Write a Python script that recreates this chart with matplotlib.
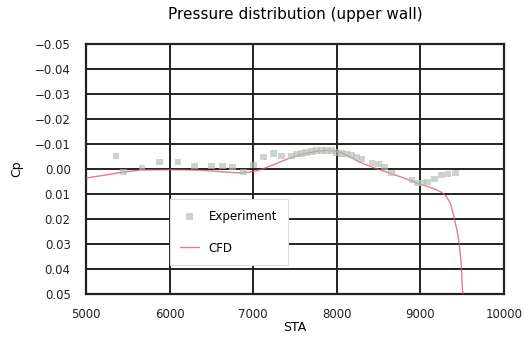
import numpy as np
import matplotlib
matplotlib.use("Agg")
import matplotlib.pyplot as plt

plt.rcParams['font.family'] = ['DejaVu Sans']

# Experiment (pressure taps on upper wall)
exp_sta = [5360, 5450, 5670, 5880, 6100, 6300, 6500, 6630, 6750, 6880,
           7000, 7120, 7240, 7340, 7460, 7520, 7580, 7640, 7700, 7760,
           7820, 7880, 7940, 8000, 8060, 8120, 8180, 8240, 8300, 8420,
           8500, 8570, 8650, 8900, 8960, 9020, 9080, 9170, 9250, 9330, 9420]
exp_cp = [-0.0052, 0.0012, -0.0004, -0.0028, -0.0028, -0.0012, -0.0012, -0.0012, -0.0008, 0.0012,
          -0.0016, -0.0048, -0.0063, -0.0052, -0.0052, -0.0060, -0.0063, -0.0067, -0.0071, -0.0075,
          -0.0075, -0.0075, -0.0075, -0.0067, -0.0063, -0.0060, -0.0056, -0.0048, -0.0040, -0.0024,
          -0.0020, -0.0008, 0.0016, 0.0044, 0.0056, 0.0056, 0.0052, 0.0040, 0.0024, 0.0020, 0.0016]

# CFD result
cfd_sta = [5000, 5200, 5450, 5680, 6000, 6300, 6500, 6700, 6850, 6970,
           7100, 7250, 7440, 7600, 7760, 7910, 8050, 8270, 8450, 8630,
           8800, 8950, 9100, 9190, 9260, 9310, 9360, 9400, 9440, 9460,
           9480, 9490, 9500, 9520]
cfd_cp = [0.0036, 0.0026, 0.0012, 0.0004, 0.0003, 0.0004, 0.0008, 0.0013, 0.0016, 0.0012,
          0.0002, -0.0018, -0.0044, -0.0060, -0.0071, -0.0075, -0.0066, -0.0028, -0.0004, 0.0016,
          0.0036, 0.0056, 0.0072, 0.0083, 0.0095, 0.0110, 0.0140, 0.0190, 0.0250, 0.0290,
          0.0350, 0.0400, 0.0470, 0.0550]

fig = plt.figure(figsize=(5.24, 3.4), dpi=100)
ax = fig.add_axes([0.164, 0.135, 0.798, 0.736])

ax.plot(cfd_sta, cfd_cp, color='#d9506a', lw=1.0, alpha=0.75, label='CFD', zorder=3)
ax.scatter(exp_sta, exp_cp, marker='s', s=24, color='#b4bcb4', alpha=0.65,
           edgecolors='none', label='Experiment', zorder=4)

ax.set_xlim(5000, 10000)
ax.set_ylim(0.05, -0.05)
ax.set_xticks(np.arange(5000, 10001, 1000))
ax.set_yticks(np.arange(-0.05, 0.051, 0.01))
ax.yaxis.set_major_formatter(plt.FuncFormatter(
    lambda v, p: f"{v:.2f}".replace('-', '\u2212') if abs(v) > 1e-9 else "0.00"))
ax.grid(True, color='#222222', lw=1.4)
ax.set_axisbelow(True)
ax.tick_params(length=0, labelsize=8.5, colors='#222222')
ax.tick_params(axis='y', pad=11)
ax.tick_params(axis='x', pad=10)
for s in ax.spines.values():
    s.set_color('#222222')
    s.set_linewidth(1.6)

ax.set_xlabel('STA', fontsize=9, labelpad=0)
ax.set_ylabel('Cp', fontsize=9, labelpad=8)
ax.set_title('Pressure distribution (upper wall)', fontsize=11, pad=18)

handles, labels = ax.get_legend_handles_labels()
leg = ax.legend(handles[::-1], labels[::-1], loc='upper left',
                bbox_to_anchor=(0.2, 0.38), borderaxespad=0, fontsize=8.5,
                frameon=True, fancybox=False, edgecolor='#dddddd', framealpha=1,
                handlelength=1.6, borderpad=0.9, labelspacing=1.6)
leg.get_frame().set_linewidth(0.8)

fig.savefig('out.png', dpi=100)
